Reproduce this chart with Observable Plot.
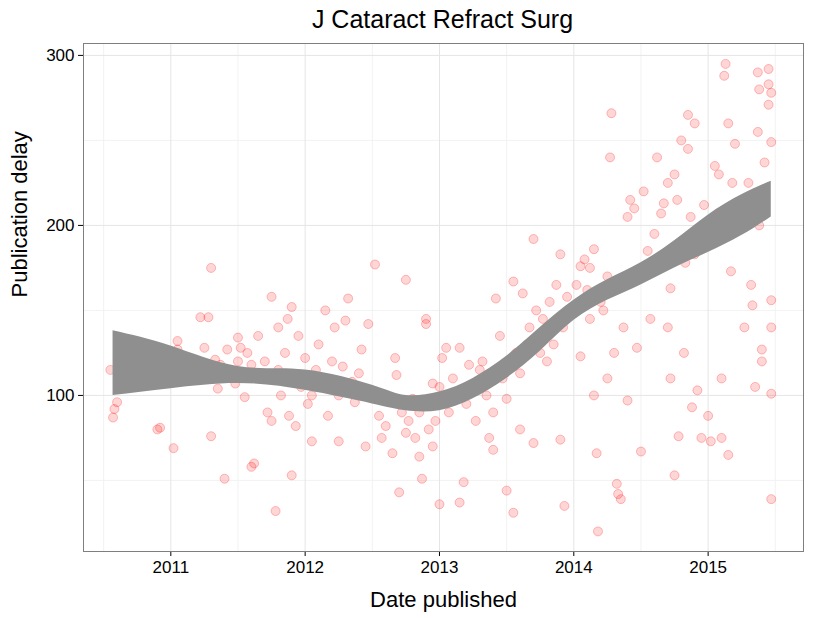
<!DOCTYPE html>
<html>
<head>
<meta charset="utf-8">
<script src="https://cdn.jsdelivr.net/npm/d3@7"></script>
<script src="https://cdn.jsdelivr.net/npm/@observablehq/plot@0.6"></script>
<style>
  body { margin: 0; background: #fff; font-family: "Liberation Sans", Arial, sans-serif; }
  #title { height: 40px; width: 825px; text-align: center; font-size: 25px; line-height: 38px; padding-left: 60px; box-sizing: border-box; }
</style>
</head>
<body>
<div id="title">J Cataract Refract Surg</div>
<div id="chart"></div>
<script>
// Publication date (decimal year) and delay (days).
const points = [
  [2010.55,115],[2010.57,87],[2010.58,92],[2010.6,96],[2010.9,120],[2010.9,123],[2010.9,112],[2010.92,110],[2010.9,80],[2010.92,81],
  [2011.02,69],[2011.05,108],[2011.05,127],[2011.05,132],[2011.1,110],[2011.15,118],[2011.2,120],[2011.22,146],[2011.25,128],[2011.25,112],
  [2011.28,146],[2011.3,175],[2011.3,76],[2011.33,121],[2011.35,104],[2011.37,118],[2011.4,51],[2011.42,127],[2011.45,112],[2011.48,107],
  [2011.5,134],[2011.5,120],[2011.52,128],[2011.55,99],[2011.57,125],[2011.6,58],[2011.6,118],[2011.62,60],[2011.65,135],[2011.67,110],
  [2011.7,120],[2011.72,90],[2011.75,158],[2011.75,85],[2011.78,32],[2011.8,140],[2011.8,115],[2011.82,100],[2011.85,125],[2011.87,145],
  [2011.88,88],[2011.9,152],[2011.9,53],[2011.92,110],[2011.93,82],[2011.95,135],[2011.97,105],
  [2012.0,122],[2012.02,95],[2012.05,100],[2012.05,73],[2012.08,115],[2012.1,130],[2012.12,105],[2012.15,150],[2012.17,88],[2012.2,120],
  [2012.22,140],[2012.25,100],[2012.25,73],[2012.28,117],[2012.3,144],[2012.32,157],[2012.35,108],[2012.37,96],[2012.4,113],[2012.42,127],
  [2012.45,70],[2012.47,142],[2012.5,102],[2012.52,177],[2012.55,88],[2012.57,75],[2012.6,82],[2012.6,100],[2012.62,98],[2012.65,66],
  [2012.67,122],[2012.68,112],[2012.7,43],[2012.72,90],[2012.75,78],[2012.75,168],[2012.77,85],[2012.8,98],[2012.82,75],[2012.85,64],
  [2012.85,90],[2012.87,51],[2012.9,145],[2012.9,142],[2012.92,80],[2012.95,70],[2012.97,85],[2013.0,105],[2012.95,107],
  [2013.0,36],[2013.02,122],[2013.05,128],[2013.07,90],[2013.1,110],[2013.12,100],[2013.15,37],[2013.15,128],[2013.18,49],[2013.2,95],
  [2013.22,118],[2013.25,103],[2013.27,85],[2013.3,115],[2013.32,120],[2013.35,100],[2013.37,75],[2013.4,68],[2013.4,90],[2013.42,157],
  [2013.45,135],[2013.47,110],[2013.5,44],[2013.5,98],[2013.52,120],[2013.55,167],[2013.55,31],[2013.57,125],[2013.6,113],[2013.6,80],
  [2013.62,160],[2013.65,130],[2013.67,140],[2013.7,192],[2013.7,72],[2013.72,150],[2013.75,125],[2013.77,145],[2013.8,120],[2013.82,155],
  [2013.85,130],[2013.87,165],[2013.9,183],[2013.9,74],[2013.92,140],[2013.93,35],[2013.95,158],[2013.97,150],
  [2014.0,152],[2014.02,165],[2014.05,176],[2014.05,123],[2014.08,180],[2014.1,162],[2014.12,175],[2014.12,145],[2014.15,186],[2014.15,100],
  [2014.17,66],[2014.18,20],[2014.2,155],[2014.22,150],[2014.25,110],[2014.25,170],[2014.27,240],[2014.28,266],[2014.3,125],[2014.32,48],
  [2014.33,42],[2014.35,39],[2014.37,140],[2014.4,205],[2014.4,97],[2014.42,215],[2014.45,210],[2014.47,128],[2014.5,67],[2014.52,220],
  [2014.55,185],[2014.57,145],[2014.6,195],[2014.62,240],[2014.65,207],[2014.67,213],[2014.7,225],[2014.7,140],[2014.72,163],[2014.72,110],
  [2014.75,53],[2014.75,230],[2014.77,215],[2014.78,76],[2014.8,190],[2014.8,250],[2014.82,125],[2014.83,178],[2014.85,265],[2014.85,245],
  [2014.87,205],[2014.88,93],[2014.9,183],[2014.9,260],[2014.92,103],[2014.95,195],[2014.95,75],[2014.97,212],[2015.0,88],[2015.02,73],
  [2015.05,235],[2015.08,230],[2015.1,75],[2015.1,110],[2015.12,288],[2015.13,295],[2015.15,260],[2015.15,65],[2015.17,173],[2015.18,225],
  [2015.2,248],[2015.32,165],[2015.33,153],[2015.35,105],[2015.37,290],[2015.37,255],[2015.38,280],[2015.38,200],[2015.4,120],[2015.4,127],
  [2015.42,237],[2015.45,292],[2015.45,283],[2015.45,271],[2015.47,278],[2015.47,249],[2015.47,156],[2015.47,140],[2015.47,101],[2015.47,39],
  [2015.3,225],[2015.27,140]
];

// Loess confidence band.
const bandX     = [2010.57, 2011, 2011.5, 2012, 2012.5, 2012.75, 2013, 2013.25, 2013.5, 2013.75, 2014, 2014.25, 2014.5, 2014.75, 2015, 2015.25, 2015.47];
const bandUpper = [138, 129, 117, 115, 106, 100, 102, 110, 123, 140, 156, 168, 178, 191, 206, 218, 226];
const bandLower = [100, 104, 107, 103, 95, 91, 91, 98, 110, 126, 144, 156, 165, 175, 184, 194, 205];

const yearTicks = [2011, 2012, 2013, 2014, 2015];
const yTicks = [100, 200, 300];

const dots = points.map(function (p) { return { x: p[0], y: p[1] }; });
const band = bandX.map(function (x, i) { return { x: x, lo: bandLower[i], hi: bandUpper[i] }; });

const chart = Plot.plot({
  width: 825,
  height: 578,
  marginLeft: 83,
  marginRight: 22,
  marginTop: 3,
  marginBottom: 67,
  style: { fontFamily: "Liberation Sans, Arial, sans-serif", fontSize: 17, color: "#000", background: "#fff" },
  x: { domain: [2010.35, 2015.71], ticks: yearTicks, tickFormat: "d", label: null, tickSize: 5 },
  y: { domain: [8.2, 307], ticks: yTicks, label: null, tickSize: 5 },
  marks: [
    Plot.gridX([2010.5, 2011.5, 2012.5, 2013.5, 2014.5, 2015.5], { stroke: "#f2f2f2", strokeOpacity: 1 }),
    Plot.gridY([50, 150, 250], { stroke: "#f2f2f2", strokeOpacity: 1 }),
    Plot.gridX(yearTicks, { stroke: "#e5e5e5", strokeOpacity: 1 }),
    Plot.gridY(yTicks, { stroke: "#e5e5e5", strokeOpacity: 1 }),
    Plot.dot(dots, { x: "x", y: "y", r: 4.5, fill: "red", fillOpacity: 0.16, stroke: "red", strokeOpacity: 0.25, strokeWidth: 1 }),
    Plot.areaY(band, { x: "x", y1: "lo", y2: "hi", fill: "#8f8f8f", fillOpacity: 1, curve: "natural" }),
    Plot.axisX({ ticks: yearTicks, tickFormat: "d", tickSize: 5, tickPadding: 4, fontSize: 17, label: null }),
    Plot.axisY({ ticks: yTicks, tickSize: 5, tickPadding: 4, fontSize: 17, label: null }),
    Plot.frame({ stroke: "#7f7f7f" }),
    Plot.text(["Date published"], { frameAnchor: "bottom", dy: 55, fontSize: 22, fill: "#000" }),
    Plot.text(["Publication delay"], { frameAnchor: "left", dx: -64, rotate: -90, fontSize: 22, fill: "#000" })
  ]
});
document.getElementById("chart").appendChild(chart);
</script>
</body>
</html>
